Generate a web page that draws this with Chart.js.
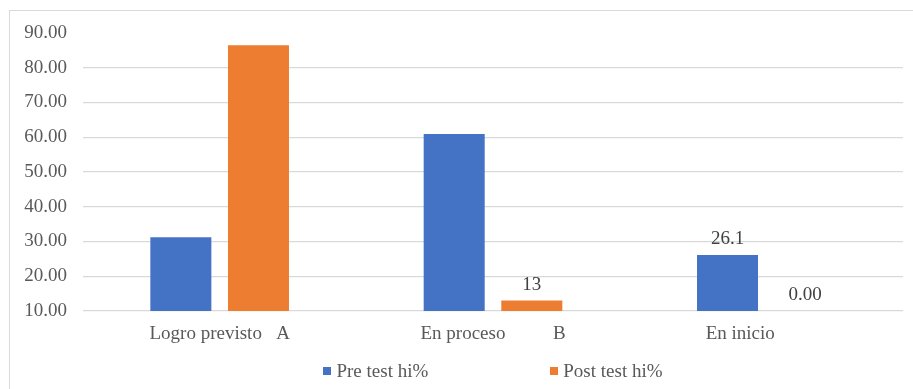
<!DOCTYPE html>
<html>
<head>
<meta charset="utf-8">
<script src="https://cdn.jsdelivr.net/npm/chart.js@4"></script>
<style>
  html, body { margin: 0; padding: 0; background: #fff; overflow: hidden; }
  #frame { position: absolute; left: 9px; top: 10px; width: 1000px; height: 500px;
           border: 1.5px solid #d9d9d9; box-sizing: border-box; }
  #c { position: absolute; left: 0; top: 0; }
</style>
</head>
<body>
<div id="frame"></div>
<canvas id="c" width="913" height="389"></canvas>
<script>
// Categories and series
const categories = ['Logro previsto   A', 'En proceso          B', 'En inicio           '];
const seriesNames = ['Pre test hi%', 'Post test hi%'];
const preTest = [31.2, 60.9, 26.1];
const postTest = [86.5, 13, 0];
// Value labels printed above selected bars
const preValueLabels = [null, null, '26.1'];
const postValueLabels = [null, '13', '0.00'];
// Value axis
const yMin = 10;
const yMax = 90;
const yStep = 10;

const BLUE = '#4472C4';
const ORANGE = '#ED7D31';
const TEXT = '#595959';
const GRID = '#d9d9d9';
const FONT = '"Liberation Serif", "Times New Roman", serif';

Chart.defaults.font.family = FONT;
Chart.defaults.font.size = 19;
Chart.defaults.color = TEXT;

// Numbers written above the bars
const valueLabels = {
  id: 'valueLabels',
  afterDatasetsDraw(chart) {
    const { ctx, chartArea } = chart;
    const texts = [preValueLabels, postValueLabels];
    ctx.save();
    ctx.font = '19px ' + FONT;
    ctx.fillStyle = '#404040';
    ctx.textAlign = 'center';
    ctx.textBaseline = 'middle';
    chart.data.datasets.forEach((ds, i) => {
      chart.getDatasetMeta(i).data.forEach((bar, j) => {
        const t = texts[i][j];
        if (t == null) return;
        const top = Math.min(bar.y, chartArea.bottom);
        ctx.fillText(t, bar.x, top - 16);
      });
    });
    ctx.restore();
  }
};

// Legend row under the category labels
const bottomLegend = {
  id: 'bottomLegend',
  afterDraw(chart) {
    const { ctx, chartArea } = chart;
    ctx.save();
    ctx.font = '19px ' + FONT;
    ctx.textBaseline = 'middle';
    ctx.textAlign = 'left';
    const box = 8, gap = 5, spacing = 122, y = 371;
    const items = chart.data.datasets.map(ds => ({
      label: ds.label, color: ds.backgroundColor, w: ctx.measureText(ds.label).width
    }));
    const total = items.reduce((s, it) => s + box + gap + it.w, 0) + spacing * (items.length - 1);
    let x = (chartArea.left + chartArea.right) / 2 - total / 2;
    items.forEach(it => {
      ctx.fillStyle = it.color;
      ctx.fillRect(Math.round(x), y - 4, box, box);
      ctx.fillStyle = TEXT;
      ctx.fillText(it.label, x + box + gap, y + 1);
      x += box + gap + it.w + spacing;
    });
    ctx.restore();
  }
};

new Chart(document.getElementById('c'), {
  type: 'bar',
  data: {
    labels: categories,
    datasets: [
      { label: seriesNames[0], data: preTest, backgroundColor: BLUE },
      { label: seriesNames[1], data: postTest, backgroundColor: ORANGE }
    ]
  },
  options: {
    responsive: false,
    devicePixelRatio: 1,
    animation: false,
    layout: { padding: { top: 33, right: 10, left: 0, bottom: 0 } },
    datasets: { bar: { categoryPercentage: 0.568, barPercentage: 0.786 } },
    plugins: { legend: { display: false }, tooltip: { enabled: false } },
    scales: {
      x: {
        grid: { display: false, drawTicks: false },
        border: { display: false },
        ticks: { padding: 12, maxRotation: 0, autoSkip: false },
        afterFit(scale) { scale.height = 78; }
      },
      y: {
        min: yMin, max: yMax,
        ticks: { stepSize: yStep, padding: 16, callback: v => Number(v).toFixed(2) },
        grid: {
          drawTicks: false,
          lineWidth: 1.3,
          color: ctx => (ctx.tick && ctx.tick.value === yMax) ? 'rgba(0,0,0,0)' : GRID
        },
        border: { display: false },
        afterFit(scale) { scale.width = 83; }
      }
    }
  },
  plugins: [valueLabels, bottomLegend]
});
</script>
</body>
</html>
